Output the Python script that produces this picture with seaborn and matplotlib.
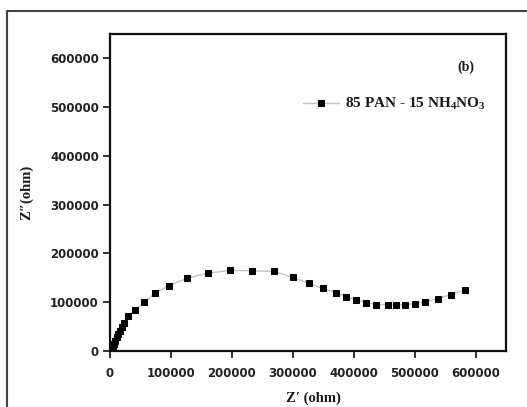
import matplotlib
matplotlib.use("Agg")
import matplotlib.pyplot as plt
from matplotlib.lines import Line2D
import seaborn as sns
import pandas as pd

# Nyquist data: real and imaginary impedance (ohm)
z_real = [1500, 3300, 4900, 6600, 8200, 11000, 13700, 16400, 19000, 23000,
          30000, 41000, 56000, 74000, 97500, 127000, 161600, 196200, 233400,
          269600, 299700, 326000, 349000, 371000, 388000, 404400, 420800,
          437300, 456500, 470200, 485000, 500300, 517300, 537600, 559400,
          583100]
z_imag = [800, 2900, 8200, 13800, 20600, 27600, 34400, 41000, 48000, 56000,
          71400, 83800, 99600, 118000, 133800, 149000, 159300, 164700, 164100,
          162700, 150300, 138700, 127700, 119400, 110600, 104400, 98900,
          94700, 94700, 93400, 94700, 96800, 100300, 107100, 114700, 125600]
ticks = [0, 100000, 200000, 300000, 400000, 500000, 600000]
series_label = r"85 PAN - 15 NH$_4$NO$_3$"
panel_tag = "(b)"

sns.set_theme(style="white")
plt.rcParams["mathtext.fontset"] = "custom"
plt.rcParams["mathtext.rm"] = "Liberation Serif:bold"
plt.rcParams["mathtext.default"] = "rm"

df = pd.DataFrame({"zr": z_real, "zi": z_imag})

fig = plt.figure(figsize=(5.27, 4.07), dpi=100)
fig.patch.set_facecolor("white")
ax = fig.add_axes([110 / 527, 1 - 350.7 / 407, 396 / 527, 316.7 / 407])

sns.lineplot(data=df, x="zr", y="zi", sort=False, estimator=None, ax=ax,
             color="#c4c4c4", linewidth=1.0, marker="s", markersize=4.3,
             markerfacecolor="black", markeredgecolor="black",
             label=series_label)

ax.set_xlim(0, 650000)
ax.set_ylim(0, 650000)
ax.set_xticks(ticks)
ax.set_yticks(ticks)
ax.set_xticklabels([str(t) for t in ticks])
ax.set_yticklabels([str(t) for t in ticks])

for sp in ax.spines.values():
    sp.set_visible(True)
    sp.set_color("#111111")
    sp.set_linewidth(1.6)

ax.tick_params(axis="both", which="major", direction="out", length=5,
               width=1.3, color="#222222", bottom=True, left=True,
               top=False, right=False, labelsize=8.5, labelcolor="#222222")
ax.tick_params(axis="x", pad=7)
ax.tick_params(axis="y", pad=3)
for lbl in ax.get_xticklabels() + ax.get_yticklabels():
    lbl.set_fontweight("bold")
    lbl.set_family("DejaVu Sans")

serif = ["Liberation Serif", "DejaVu Serif"]
ax.set_xlabel("")
ax.set_ylabel("")
fig.text(313 / 527, 1 - 398 / 407, "Z\u2032 (ohm)", ha="center", va="center",
         family=serif, fontweight="bold", fontsize=10.5, color="#1a1a1a")
fig.text(27 / 527, 1 - 192 / 407, "Z\u2033(ohm)", ha="center", va="center",
         rotation=90, family=serif, fontweight="bold", fontsize=10.5,
         color="#1a1a1a")

ax.text(466 / 527, 1 - 67 / 407, panel_tag, transform=fig.transFigure,
        ha="center", va="center", family=serif, fontweight="bold",
        fontsize=10, color="#1a1a1a")

leg = ax.legend(loc="center left", bbox_to_anchor=(295 / 527, 1 - 104 / 407),
                bbox_transform=fig.transFigure, frameon=False,
                handlelength=2.4, handletextpad=0.35, borderpad=0,
                prop={"family": "Liberation Serif", "weight": "bold",
                      "size": 11})
for t in leg.get_texts():
    t.set_color("#1a1a1a")

# outer frame of the figure panel
fig.add_artist(Line2D([7 / 527, 7 / 527], [0, 1 - 11 / 407],
                      transform=fig.transFigure, color="#444444", lw=1.5))
fig.add_artist(Line2D([7 / 527, 1], [1 - 11 / 407, 1 - 11 / 407],
                      transform=fig.transFigure, color="#444444", lw=1.5))

fig.savefig("out.png", dpi=100, facecolor="white")
